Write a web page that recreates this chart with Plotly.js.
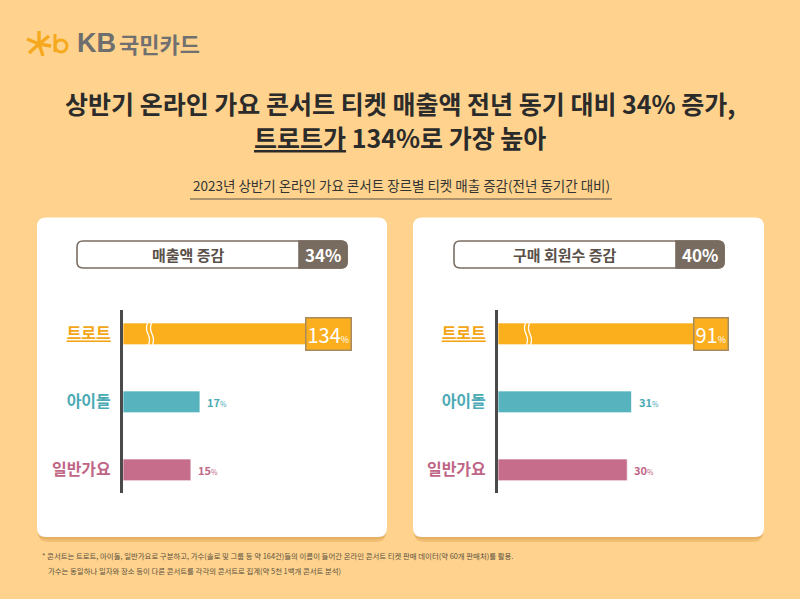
<!DOCTYPE html>
<html>
<head>
<meta charset="utf-8">
<script src="https://cdn.plot.ly/plotly-3.0.1.min.js"></script>
<style>
  html, body { margin: 0; padding: 0; background: #FFD38D; }
  #chart { width: 800px; height: 599px; }
</style>
</head>
<body>
<div id="chart"></div>
<script>
// ---------------- data ----------------
const genres = ['트로트', '아이돌', '일반가요'];
const salesChange = [134, 17, 15];      // 매출액 증감 (%)
const memberChange = [91, 31, 30];      // 구매 회원수 증감 (%)
const panelTitles = ['매출액 증감', '구매 회원수 증감'];
const panelTotals = [34, 40];
const genreColors = ['#FCAF1C', '#57B4BE', '#C56D8A'];
const labelColors = ['#F4A516', '#4BAAB5', '#C06586'];

// ---------------- helpers ----------------
const W = 800, H = 599;
const px = x => x / W;
const py = y => 1 - y / H;
const FONT = '"Noto Sans CJK KR", "Noto Sans", sans-serif';

function rr(x0, y0, x1, y1, r) {
  return `M ${px(x0 + r)} ${py(y0)} L ${px(x1 - r)} ${py(y0)} Q ${px(x1)} ${py(y0)} ${px(x1)} ${py(y0 + r)} ` +
         `L ${px(x1)} ${py(y1 - r)} Q ${px(x1)} ${py(y1)} ${px(x1 - r)} ${py(y1)} ` +
         `L ${px(x0 + r)} ${py(y1)} Q ${px(x0)} ${py(y1)} ${px(x0)} ${py(y1 - r)} ` +
         `L ${px(x0)} ${py(y0 + r)} Q ${px(x0)} ${py(y0)} ${px(x0 + r)} ${py(y0)} Z`;
}
function rightRounded(x0, y0, x1, y1, r) {
  return `M ${px(x0)} ${py(y0)} L ${px(x1 - r)} ${py(y0)} Q ${px(x1)} ${py(y0)} ${px(x1)} ${py(y0 + r)} ` +
         `L ${px(x1)} ${py(y1 - r)} Q ${px(x1)} ${py(y1)} ${px(x1 - r)} ${py(y1)} L ${px(x0)} ${py(y1)} Z`;
}
function wave(x0, y0, y1) {
  const m = (y0 + y1) / 2, q1 = (y0 + m) / 2, q2 = (m + y1) / 2;
  return `M ${px(x0)} ${py(y0)} Q ${px(x0 - 3)} ${py(q1)} ${px(x0)} ${py(m)} Q ${px(x0 + 3)} ${py(q2)} ${px(x0)} ${py(y1)}`;
}

// ---------------- traces ----------------
const panels = [
  { vals: salesChange, xa: 'x', xb: 'x2', ya: 'y' },
  { vals: memberChange, xa: 'x3', xb: 'x4', ya: 'y2' }
];
const traces = [];
panels.forEach(p => {
  // trot row on its own (compressed, broken) scale
  traces.push({
    type: 'bar', orientation: 'h',
    y: [genres[0]], x: [p.vals[0]],
    xaxis: p.xb, yaxis: p.ya, width: 0.32,
    marker: { color: [genreColors[0]], line: { color: 'rgba(255,255,255,0.7)', width: 1 } },
    hoverinfo: 'skip', showlegend: false
  });
  traces.push({
    type: 'bar', orientation: 'h',
    y: genres.slice(1), x: p.vals.slice(1),
    xaxis: p.xa, yaxis: p.ya, width: 0.32,
    marker: { color: genreColors.slice(1), line: { color: 'rgba(255,255,255,0.7)', width: 1 } },
    hoverinfo: 'skip', showlegend: false
  });
});

// ---------------- axes ----------------
const yDomain = [py(493), py(310)];
const tickText = genres.map((g, i) => {
  const inner = i === 0 ? `<u>${g}</u>` : g;
  return `<b><span style="color:${labelColors[i]}">${inner}</span></b>`;
});
function yAxis(anchor) {
  return {
    domain: yDomain, anchor: anchor, type: 'category',
    categoryorder: 'array', categoryarray: genres,
    range: [2.34, -0.35],
    tickvals: genres, ticktext: tickText,
    tickfont: { family: FONT, size: 16 },
    ticks: '', ticklabelstandoff: 6,
    showline: true, linecolor: '#4A4A4A', linewidth: 3,
    showgrid: false, zeroline: false, fixedrange: true
  };
}
function xAxis(domain, range, anchor, overlay) {
  const a = {
    domain: domain, range: range, anchor: anchor, visible: false,
    showgrid: false, zeroline: false, fixedrange: true
  };
  if (overlay) a.overlaying = overlay;
  return a;
}
const leftDom = [px(123), px(372)];
const rightDom = [px(498), px(747)];

// ---------------- shapes ----------------
const shapes = [];
// panel shadows & panels
[[37, 387], [413, 764]].forEach(([a, b]) => {
  shapes.push({ type: 'path', xref: 'paper', yref: 'paper', path: rr(a + 1, 222, b - 1, 542, 10),
    fillcolor: 'rgba(205,140,55,0.28)', line: { width: 0 }, layer: 'below' });
  shapes.push({ type: 'path', xref: 'paper', yref: 'paper', path: rr(a, 220, b, 539.5, 10),
    fillcolor: 'rgba(205,140,55,0.25)', line: { width: 0 }, layer: 'below' });
  shapes.push({ type: 'path', xref: 'paper', yref: 'paper', path: rr(a, 217.5, b, 537, 9),
    fillcolor: '#FFFFFF', line: { width: 0 }, layer: 'below' });
});
// header boxes
[[77, 299, 347], [454, 676, 724]].forEach(([a, m, b]) => {
  shapes.push({ type: 'path', xref: 'paper', yref: 'paper', path: rr(a, 241, b, 268, 6),
    fillcolor: '#FFFFFF', line: { color: '#7B6E63', width: 1.6 }, layer: 'below' });
  shapes.push({ type: 'path', xref: 'paper', yref: 'paper', path: rightRounded(m, 241, b, 268, 6),
    fillcolor: '#786B60', line: { color: '#786B60', width: 1.6 }, layer: 'below' });
});
// axis-break marks on trot bars
[148, 152, 526, 530].forEach(x0 => {
  shapes.push({ type: 'path', xref: 'paper', yref: 'paper', path: wave(x0, 322, 346),
    line: { color: '#FFFFFF', width: 1.3 } });
});
// subtitle underline
shapes.push({ type: 'line', xref: 'paper', yref: 'paper', x0: px(190), x1: px(612), y0: py(199), y1: py(199),
  line: { color: '#5A524A', width: 1 } });
// logo star
const cx = 39, cy = 44;
[[-12, -5], [-10, 9], [0, -13], [10, -8], [4, 12], [12, 2]].forEach(([dx, dy]) => {
  shapes.push({ type: 'line', xref: 'paper', yref: 'paper',
    x0: px(cx), y0: py(cy), x1: px(cx + dx), y1: py(cy + dy),
    line: { color: '#F6A81E', width: 3.4 } });
});
shapes.push({ type: 'line', xref: 'paper', yref: 'paper', x0: px(55), y0: py(34), x1: px(55), y1: py(52),
  line: { color: '#F6A81E', width: 3 } });
shapes.push({ type: 'circle', xref: 'paper', yref: 'paper', x0: px(55), y0: py(40), x1: px(67), y1: py(52),
  line: { color: '#F6A81E', width: 3 } });

// ---------------- annotations ----------------
const ann = [];
const t = (x, y, text, size, color, opts = {}) => Object.assign({
  xref: 'paper', yref: 'paper', x: px(x), y: py(y), text: text, showarrow: false,
  font: { family: FONT, size: size, color: color }, xanchor: 'center', yanchor: 'middle'
}, opts);

// logo text
ann.push(t(75, 43, '<b>KB</b>', 27, '#6E6E6E', { xanchor: 'left', font: { family: '"Liberation Sans", Arial, sans-serif', size: 27, color: '#6E6E6E' } }));
ann.push(t(117, 43, '<b>국민카드</b>', 22, '#707070', { xanchor: 'left' }));
// titles
ann.push(t(400, 103, '<b>상반기 온라인 가요 콘서트 티켓 매출액 전년 동기 대비 34% 증가,</b>', 25, '#2B2B2B'));
ann.push(t(400, 137, '<b><u>트로트가</u> 134%로 가장 높아</b>', 25, '#2B2B2B'));
ann.push(t(401, 185, '2023년 상반기 온라인 가요 콘서트 장르별 티켓 매출 증감(전년 동기간 대비)', 13.5, '#333333'));

// panel headers
[[188, 323], [565, 700]].forEach(([cxTitle, cxVal], i) => {
  ann.push(t(cxTitle, 254.5, `<b>${panelTitles[i]}</b>`, 15, '#5A5048'));
  ann.push(t(cxVal, 254.5, `<b>${panelTotals[i]}%</b>`, 17, '#FFFFFF'));
});

// value labels
panels.forEach((p, k) => {
  ann.push({
    xref: p.xb, yref: p.ya, x: p.vals[0], y: genres[0], xanchor: 'right', yanchor: 'middle',
    text: `${p.vals[0]}<span style="font-size:9px">%</span>`, showarrow: false,
    font: { family: FONT, size: 20, color: '#FFFFFF' },
    bgcolor: '#FBAF1E', bordercolor: '#A88A5E', borderwidth: 1.5, borderpad: 1
  });
  for (let i = 1; i < genres.length; i++) {
    ann.push({
      xref: p.xa, yref: p.ya, x: p.vals[i], y: genres[i], xanchor: 'left', yanchor: 'middle', xshift: 5,
      text: `<b>${p.vals[i]}</b><span style="font-size:7px">%</span>`, showarrow: false,
      font: { family: FONT, size: 11, color: labelColors[i] }
    });
  }
});

// footnote
ann.push(t(40, 555, '* 콘서트는 트로트, 아이돌, 일반가요로 구분하고, 가수(솔로 및 그룹 등 약 164건)들의 이름이 들어간 온라인 콘서트 티켓 판매 데이터(약 60개 판매처)를 활용.', 7.4, '#5A5040', { xanchor: 'left' }));
ann.push(t(46, 570, '가수는 동일하나 일자와 장소 등이 다른 콘서트를 각각의 콘서트로 집계(약 5천 1백개 콘서트 분석)', 7.4, '#5A5040', { xanchor: 'left' }));

const layout = {
  width: W, height: H,
  margin: { l: 0, r: 0, t: 0, b: 0 },
  paper_bgcolor: '#FFD38D', plot_bgcolor: 'rgba(0,0,0,0)',
  barmode: 'overlay', showlegend: false,
  font: { family: FONT },
  xaxis: xAxis(leftDom, [0, 55], 'y'),
  xaxis2: xAxis(leftDom, [0, 145.7], 'y', 'x'),
  xaxis3: xAxis(rightDom, [0, 57.8], 'y2'),
  xaxis4: xAxis(rightDom, [0, 98.1], 'y2', 'x3'),
  yaxis: yAxis('x'),
  yaxis2: yAxis('x3'),
  shapes: shapes,
  annotations: ann
};

Plotly.newPlot('chart', traces, layout, { displayModeBar: false, staticPlot: true });
</script>
</body>
</html>
